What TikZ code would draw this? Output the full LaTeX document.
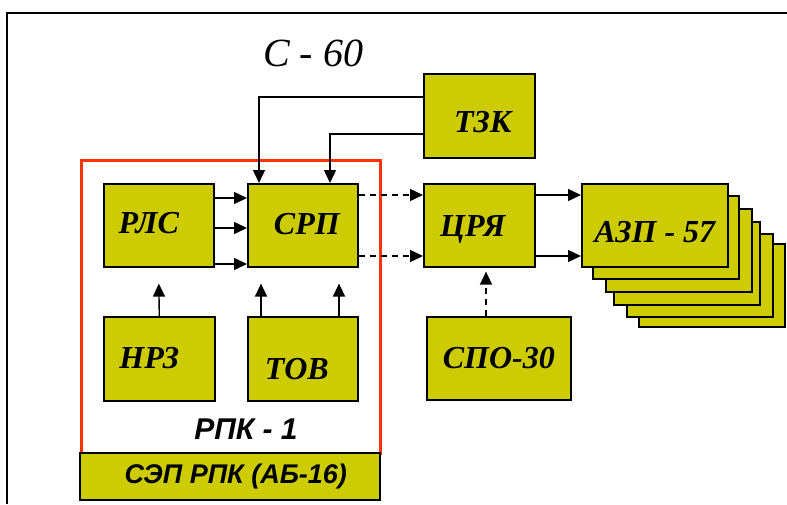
\documentclass[tikz,border=0pt]{standalone}
\usepackage{fontspec}
\setmainfont{Liberation Serif}
\setsansfont{Liberation Sans}
\usetikzlibrary{arrows.meta,calc}
\definecolor{boxfill}{RGB}{204,204,0}
\definecolor{framered}{RGB}{255,51,0}
\begin{document}
\begin{tikzpicture}[x=1pt,y=-1pt,
  blk/.style={draw=black, fill=boxfill, line width=1.6pt, inner sep=0pt, anchor=north west},
  lbl/.style={font=\fontsize{32}{32}\selectfont\bfseries\itshape, inner sep=0pt},
  conn/.style={line width=1.4pt},
  tip/.style={-{Triangle[length=13pt,width=12pt]}},
  dsh/.style={dash pattern=on 6pt off 5pt}]
\useasboundingbox (0,0) rectangle (787,504);
% outer frame
\draw[line width=2.2pt] (7,504) -- (7,13) -- (787,13);
% title
\node[inner sep=0pt, font=\fontsize{40}{40}\selectfont\itshape] (title) at (313,53) {С - 60};
% red РПК frame
\node[draw=framered, line width=2.5pt, minimum width=299pt, minimum height=293pt, inner sep=0pt, anchor=north west] (rpk) at (80,159) {};
\node[inner sep=0pt, font=\fontsize{30}{30}\selectfont\sffamily\bfseries\itshape] (rpklbl) at (246,429) {РПК - 1};
% SEP box
\node[blk, minimum width=300pt, minimum height=47pt,
  label={[inner sep=0pt, xshift=6pt, font=\fontsize{27}{27}\selectfont\sffamily\bfseries\itshape]center:СЭП РПК (АБ-16)}] (sep) at (79,452) {};
% AZP stack
\foreach \dx/\dy/\n in {57/60/5,45/50/4,32/38/3,24/25/2,11/12/1}{
  \node[blk, minimum width=146pt, minimum height=83pt] (azp\n) at (581+\dx,183+\dy) {};
}
% boxes
\node[blk, minimum width=110pt, minimum height=83pt,
  label={[lbl,xshift=-10pt,yshift=2.5pt]center:РЛС}] (rls) at (103,183) {};
\node[blk, minimum width=110pt, minimum height=83pt,
  label={[lbl,xshift=4pt,yshift=1.5pt]center:СРП}] (srp) at (247,183) {};
\node[blk, minimum width=111pt, minimum height=84pt,
  label={[lbl,xshift=3.5pt,yshift=-6pt]center:ТЗК}] (tzk) at (423,73) {};
\node[blk, minimum width=111pt, minimum height=83pt,
  label={[lbl,xshift=-6.5pt,yshift=-4.5pt]center:ЦРЯ}] (cry) at (423,183) {};
\node[blk, minimum width=146pt, minimum height=83pt,
  label={[lbl,yshift=-6.5pt]center:АЗП - 57}] (azp) at (581,183) {};
\node[blk, minimum width=111pt, minimum height=84pt,
  label={[lbl,xshift=-10pt,yshift=1pt]center:НРЗ}] (nrz) at (103,316) {};
\node[blk, minimum width=110pt, minimum height=84pt,
  label={[lbl,xshift=-6pt,yshift=-10pt]center:ТОВ}] (tov) at (247,316) {};
\node[blk, minimum width=144pt, minimum height=83pt,
  label={[lbl]center:СПО-30}] (spo) at (426,316) {};
% connectors RLS -> SRP
\foreach \yy in {198,228,264}{
  \draw[conn,tip] (rls.east |- 0,\yy) -- (srp.west |- 0,\yy);
}
% SRP -> CRYA dashed, CRYA -> AZP
\foreach \yy in {195,256}{
  \draw[conn,tip,dsh] (srp.east |- 0,\yy) -- (cry.west |- 0,\yy);
  \draw[conn,tip] (cry.east |- 0,\yy) -- (azp.west |- 0,\yy);
}
% TZK -> SRP
\draw[conn,tip] (tzk.west |- 0,97) -| (srp.north -| 259,0);
\draw[conn,tip] (tzk.west |- 0,134) -| (srp.north -| 330,0);
% NRZ, TOV up arrows
\draw[conn,tip] (nrz.north) -- ($(rls.south)+(0,16)$);
\draw[conn,tip] (tov.north -| 261,0) -- ($(srp.south -| 261,0)+(0,16)$);
\draw[conn,tip] (tov.north -| 339,0) -- ($(srp.south -| 339,0)+(0,16)$);
% SPO -> CRYA dashed
\draw[conn,tip,dsh,shorten >=4pt] (spo.north -| 486,0) -- (cry.south -| 486,0);
\end{tikzpicture}
\end{document}
